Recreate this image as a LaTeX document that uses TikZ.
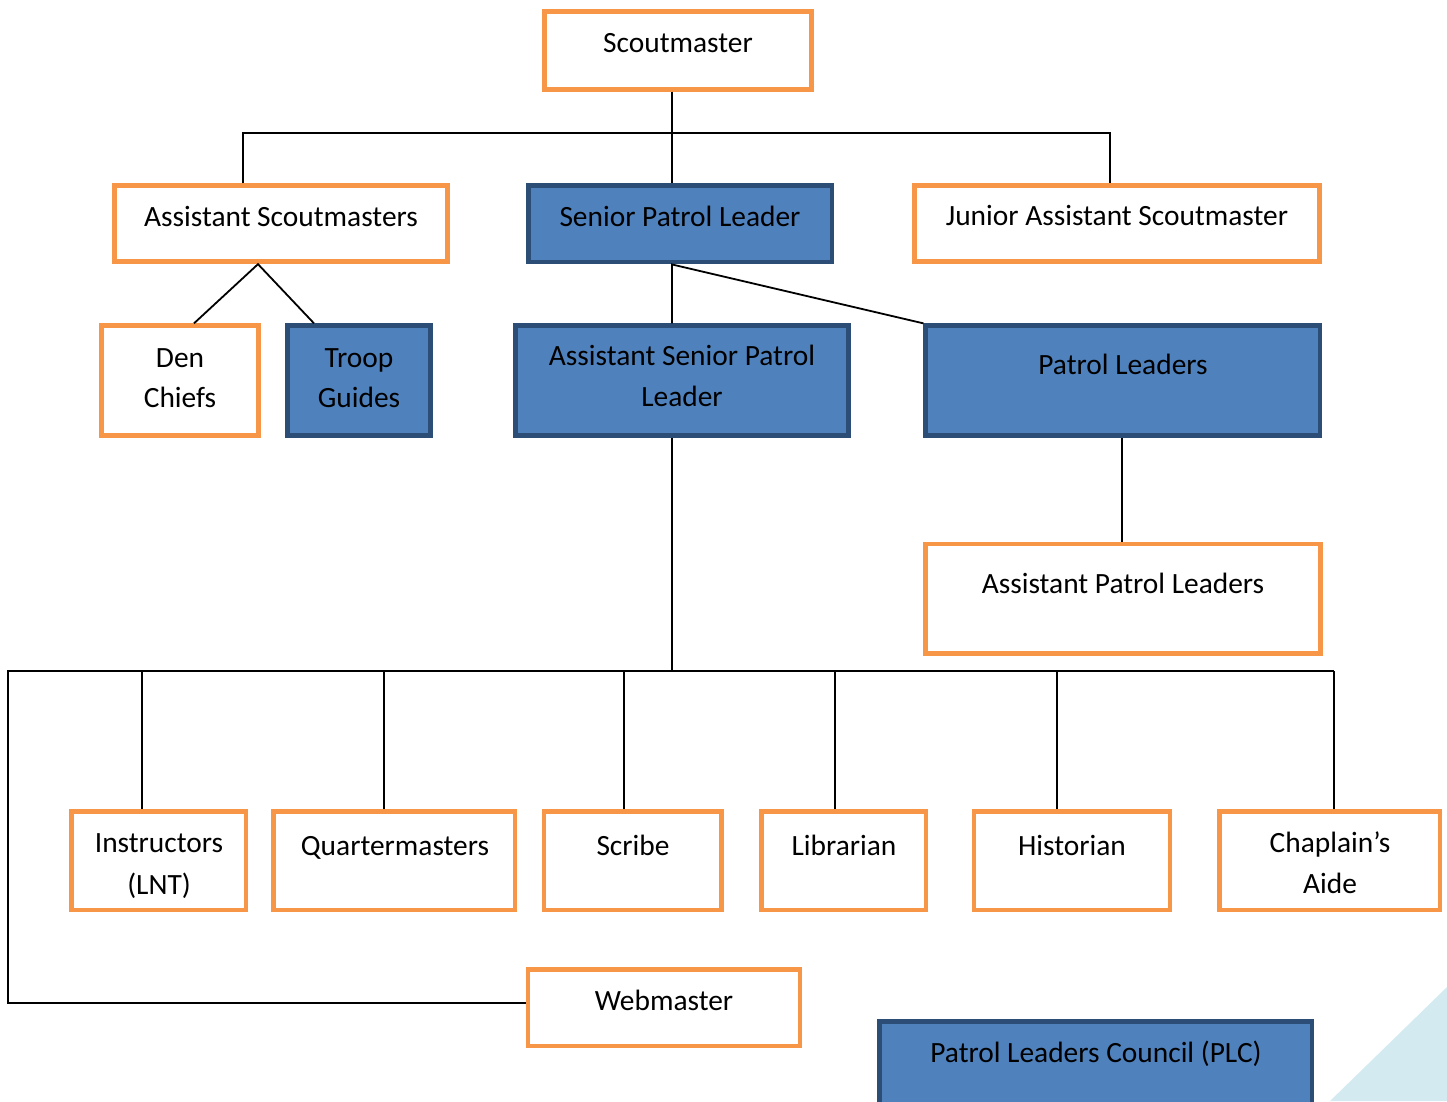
\documentclass[tikz,border=0pt]{standalone}
\usepackage{fontspec}
\setmainfont{Carlito}
\definecolor{orng}{HTML}{F79646}
\definecolor{bfill}{HTML}{4F81BD}
\definecolor{bline}{HTML}{2C4D75}
\definecolor{tri}{HTML}{D4EAF1}
\tikzset{
  obox/.style={draw=orng, line width=4.8pt, fill=white, rectangle, inner sep=0pt},
  bbox/.style={draw=bline, line width=4.8pt, fill=bfill, rectangle, inner sep=0pt},
  lbl/.style={anchor=base, inner sep=0pt, font=\fontsize{29.4}{35}\selectfont},
  conn/.style={draw=black, line width=1.8pt}
}
\begin{document}
\begin{tikzpicture}[x=1pt,y=-1pt]
\useasboundingbox (0,0) rectangle (1447,1101);
\clip (0,0) rectangle (1447,1101);
\fill[tri] (1330,1101) -- (1447,987) -- (1447,1101) -- cycle;

% boxes
\node[obox, minimum width=267.5pt, minimum height=77.5pt] (sm) at (678,50.5) {};
\node[obox, minimum width=333.5pt, minimum height=76pt] (asm) at (281,223.75) {};
\node[bbox, minimum width=303.8pt, minimum height=76.3pt] (spl) at (680.15,223.9) {};
\node[obox, minimum width=405.5pt, minimum height=76pt] (jasm) at (1117,223.75) {};
\node[obox, minimum width=156.5pt, minimum height=110pt] (dc) at (180,380.75) {};
\node[bbox, minimum width=143pt, minimum height=110pt] (tg) at (358.75,380.75) {};
\node[bbox, minimum width=332.5pt, minimum height=109.7pt] (aspl) at (682,380.6) {};
\node[bbox, minimum width=394.3pt, minimum height=109.7pt] (pl) at (1122.9,380.6) {};
\node[obox, minimum width=394.7pt, minimum height=109.8pt] (apl) at (1123.1,598.85) {};
\node[obox, minimum width=174.5pt, minimum height=98.5pt] (ins) at (158.8,860.8) {};
\node[obox, minimum width=241.8pt, minimum height=98.5pt] (qm) at (394.15,860.8) {};
\node[obox, minimum width=177.8pt, minimum height=98.5pt] (scr) at (632.85,860.8) {};
\node[obox, minimum width=164.5pt, minimum height=98.5pt] (lib) at (843.8,860.8) {};
\node[obox, minimum width=196.1pt, minimum height=98.5pt] (his) at (1072,860.8) {};
\node[obox, minimum width=220.5pt, minimum height=98.5pt] (cha) at (1329.8,860.8) {};
\node[obox, minimum width=272.1pt, minimum height=76.5pt] (web) at (664,1007.8) {};
\node[bbox, minimum width=432.5pt, minimum height=120pt] (plc) at (1095.8,1081.5) {};

% labels
\node[lbl] (tsm) at (678,52) {Scoutmaster};
\node[lbl] (tasm) at (281,226) {Assistant Scoutmasters};
\node[lbl] (tspl) at (680,226) {Senior Patrol Leader};
\node[lbl] (tjasm) at (1117,225) {Junior Assistant Scoutmaster};
\node[lbl] (tdc1) at (180,367) {Den};
\node[lbl] (tdc2) at (180,407) {Chiefs};
\node[lbl] (ttg1) at (359,367) {Troop};
\node[lbl] (ttg2) at (359,407) {Guides};
\node[lbl] (taspl1) at (682,365) {Assistant Senior Patrol};
\node[lbl] (taspl2) at (682,406) {Leader};
\node[lbl] (tpl) at (1123,374) {Patrol Leaders};
\node[lbl] (tapl) at (1123,593) {Assistant Patrol Leaders};
\node[lbl] (tins1) at (159,852) {Instructors};
\node[lbl] (tins2) at (159,894) {(LNT)};
\node[lbl] (tqm) at (395,855) {Quartermasters};
\node[lbl] (tscr) at (633,855) {Scribe};
\node[lbl] (tlib) at (844,855) {Librarian};
\node[lbl] (this) at (1072,855) {Historian};
\node[lbl] (tcha1) at (1330,852) {Chaplain’s};
\node[lbl] (tcha2) at (1330,893) {Aide};
\node[lbl] (tweb) at (664,1010) {Webmaster};
\node[lbl] (tplc) at (1096,1062) {Patrol Leaders Council (PLC)};

% connectors
\coordinate (bus) at (672,671);
\draw[conn] (672,0 |- sm.south) -- (672,0 |- spl.north);
\draw[conn] (243,0 |- asm.north) -- (243,133) -- (1110,133) -- (1110,0 |- jasm.north);
\draw[conn] (194,0 |- dc.north) -- (258,0 |- asm.south) -- (314,0 |- tg.north);
\draw[conn] (672,0 |- aspl.north) -- (672,0 |- spl.south) -- (pl.north west);
\draw[conn] (1122,0 |- pl.south) -- (1122,0 |- apl.north);
\draw[conn] (672,0 |- aspl.south) -- (bus);
\draw[conn] (web.west |- 0,1003) -- (8,1003) -- (8,671) -- (1334,671);
\draw[conn] (142,671) -- (142,0 |- ins.north);
\draw[conn] (384,671) -- (384,0 |- qm.north);
\draw[conn] (624,671) -- (624,0 |- scr.north);
\draw[conn] (835,671) -- (835,0 |- lib.north);
\draw[conn] (1057,671) -- (1057,0 |- his.north);
\draw[conn] (1334,671) -- (1334,0 |- cha.north);
\end{tikzpicture}
\end{document}
